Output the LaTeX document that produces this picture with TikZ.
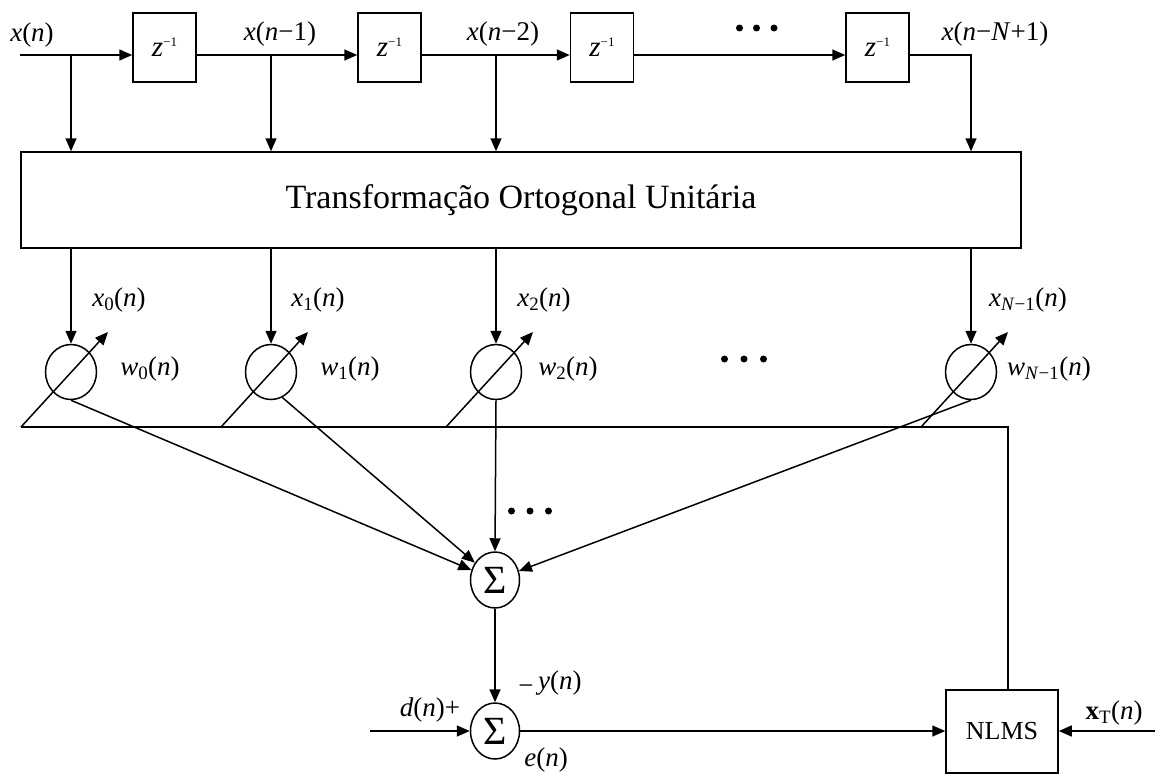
\documentclass[tikz,border=0pt]{standalone}
\usepackage{fontspec}
\setmainfont{Liberation Serif}
\usetikzlibrary{arrows.meta,shapes.geometric}
\newcommand\zinv{\textit{z}\raisebox{10pt}{\fontsize{13}{13}\selectfont −1}}
\begin{document}
\begin{tikzpicture}[x=1pt,y=-1pt,
  line width=1.5pt,
  arr/.style={-{Triangle[length=13pt,width=11pt]}},
  delaybox/.style={draw,minimum width=63pt,minimum height=69pt,inner sep=0pt,font=\fontsize{29}{29}\selectfont},
  wcirc/.style={draw,ellipse,minimum width=51pt,minimum height=55pt,inner sep=0pt},
  sumcirc/.style={draw,ellipse,minimum width=49pt,minimum height=56pt,inner sep=0pt,font=\fontsize{40}{40}\selectfont},
  lbl/.style={inner sep=0pt,font=\fontsize{27}{27}\selectfont},
  dotsty/.style={fill=black},
]
\useasboundingbox (0,0) rectangle (1155,774);

% delay line
\coordinate (xin) at (20,55);
\coordinate (p0) at (71,55);
\coordinate (p1) at (271,55);
\coordinate (p2) at (496,55);
\coordinate (p3) at (971,55);
\node[delaybox] (b1) at (164.5,47.5) {\zinv};
\node[delaybox] (b2) at (389.5,47.5) {\zinv};
\node[delaybox] (b3) at (602,47.5) {\zinv};
\node[delaybox] (b4) at (877.5,47.5) {\zinv};

\draw[arr] (xin) -- (xin -| b1.west);
\draw[arr] (b1.east |- xin) -- (b2.west |- xin);
\draw[arr] (b2.east |- xin) -- (b3.west |- xin);
\draw[arr] (b3.east |- xin) -- (b4.west |- xin);

\node[lbl] (lxn) at (32,35) {\textit{x}(\textit{n})};
\node[lbl] (lxn1) at (280,34) {\textit{x}(\textit{n}−1)};
\node[lbl] (lxn2) at (503,34) {\textit{x}(\textit{n}−2)};
\node[lbl] (lxnN) at (995,34) {\textit{x}(\textit{n}−\textit{N}+1)};
\fill[dotsty] (739.5,28) circle (3.5pt) (756.5,28) circle (3.5pt) (774,28) circle (3.5pt);

% transformation
\node[draw,minimum width=1000pt,minimum height=96pt,inner sep=0pt,font=\fontsize{34}{34}\selectfont] (T) at (521,200) {Transformação Ortogonal Unitária};

\draw[arr] (p0) -- (p0 |- T.north);
\draw[arr] (p1) -- (p1 |- T.north);
\draw[arr] (p2) -- (p2 |- T.north);
\draw[arr] (b4.east |- p3) -| (p3 |- T.north);

% weights
\node[wcirc] (c0) at (71,372) {};
\node[wcirc] (c1) at (271,372) {};
\node[wcirc] (c2) at (496,372) {};
\node[wcirc] (c3) at (971,372) {};
\draw[arr] (c0 |- T.south) -- (c0.north);
\draw[arr] (c1 |- T.south) -- (c1.north);
\draw[arr] (c2 |- T.south) -- (c2.north);
\draw[arr] (c3 |- T.south) -- (c3.north);

\node[lbl] (lx0) at (119,300) {\textit{x}\textsubscript{0}(\textit{n})};
\node[lbl] (lx1) at (318,300) {\textit{x}\textsubscript{1}(\textit{n})};
\node[lbl] (lx2) at (544,300) {\textit{x}\textsubscript{2}(\textit{n})};
\node[lbl] (lx3) at (1028,300) {\textit{x}\textsubscript{\textit{N}−1}(\textit{n})};
\node[lbl] (lw0) at (150,369) {\textit{w}\textsubscript{0}(\textit{n})};
\node[lbl] (lw1) at (350,369) {\textit{w}\textsubscript{1}(\textit{n})};
\node[lbl] (lw2) at (568,369) {\textit{w}\textsubscript{2}(\textit{n})};
\node[lbl] (lw3) at (1049,369) {\textit{w}\textsubscript{\textit{N}−1}(\textit{n})};
\fill[dotsty] (724.5,359) circle (3.5pt) (744,359) circle (3.5pt) (763.5,359) circle (3.5pt);

% feedback bus and adjust arrows
\coordinate (f0) at (21,427);
\coordinate (f1) at (221,427);
\coordinate (f2) at (446,427);
\coordinate (f3) at (921,427);
\coordinate (fe) at (1008,427);
\coordinate (t0) at (108,332);
\coordinate (t1) at (308,332);
\coordinate (t2) at (533,332);
\coordinate (t3) at (1008,332);
\draw[arr] (f0) -- (t0);
\draw[arr] (f1) -- (t1);
\draw[arr] (f2) -- (t2);
\draw[arr] (f3) -- (t3);

% sums
\node[sumcirc] (s1) at (495,580) {Σ};
\node[sumcirc] (s2) at (495,731) {Σ};
\draw[arr] (c0.south) -- (s1);
\draw[arr] (c1.-66) -- (s1);
\draw[arr] (c2.south) -- (s1.north);
\draw[arr] (c3.south) -- (s1);
\fill[dotsty] (511.5,511) circle (3.5pt) (530,511) circle (3.5pt) (548.5,511) circle (3.5pt);

\node[draw,minimum width=112pt,minimum height=83pt,inner sep=0pt,font=\fontsize{26}{26}\selectfont] (N) at (1002,731.5) {NLMS};
\draw (f0) -- (fe) -- (fe |- N.north);

\draw[arr] (s1) -- (s2);
\coordinate (din) at (370,731);
\draw[arr] (din) -- (s2.west);
\draw[arr] (s2.east) -- (s2.east -| N.west);
\coordinate (xtin) at (1155,731);
\draw[arr] (xtin) -- (xtin -| N.east);

\node[lbl] (ld) at (430,710) {\textit{d}(\textit{n})+};
\node[lbl] (ly) at (550,683) {\raisebox{-5pt}{−}\,\textit{y}(\textit{n})};
\node[lbl] (le) at (546,760) {\textit{e}(\textit{n})};
\node[lbl] (lxt) at (1114,713) {\textbf{x}\textsubscript{T}(\textit{n})};
\end{tikzpicture}
\end{document}
